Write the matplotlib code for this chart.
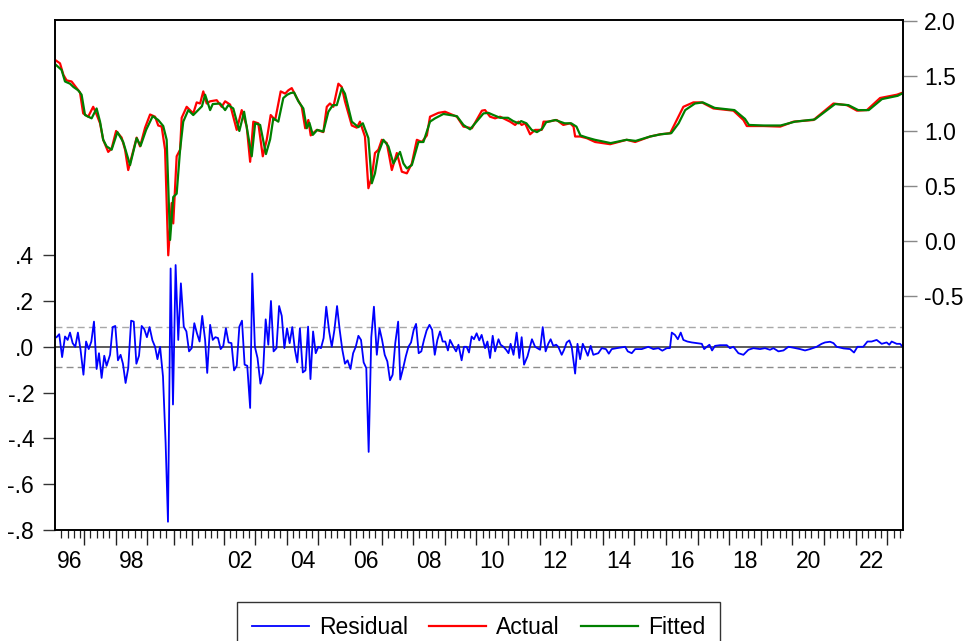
"""Residual / Actual / Fitted graph, EViews style."""

import matplotlib
matplotlib.use("Agg")
import matplotlib.pyplot as plt
import numpy as np

plt.rcParams["font.family"] = ["Liberation Sans", "DejaVu Sans"]

# observations per calendar year, 1996..2023 (dated workfile, gaps in 1999/2000)
years = list(range(1996, 2024))
obs_per_year = [11, 12, 12, 10, 7] + [12] * 22 + [6]
labelled_years = [1996, 1998] + list(range(2002, 2023, 2))

actual_obs = [0.4, 1.9, 3.2, 4.4, 6.3, 8.2, 9.5, 10.7, 12.6, 14.5,
              15.8, 17.1, 18.3, 20.2, 21.5, 23.2, 25.3, 26.6, 27.8, 29.5,
              31.0, 32.3, 34.2, 36.1, 38.0, 39.2, 40.5, 41.8, 43.0, 44.3,
              44.9, 46.2, 47.5, 48.1, 50.0, 52.5, 53.8, 55.1, 56.3, 57.6,
              58.9, 61.4, 63.3, 64.6, 66.5, 69.0, 70.9, 72.8, 74.1, 75.3,
              77.2, 78.9, 80.4, 81.9, 83.6, 85.7, 87.4, 88.6, 89.9, 91.8,
              93.7, 95.0, 96.2, 97.1, 99.4, 101.9, 103.2, 104.4, 105.7, 107.6,
              108.9, 110.1, 112.7, 114.6, 115.8, 117.7, 119.0, 120.3, 121.5, 122.8,
              124.1, 126.0, 127.9, 129.8, 131.7, 133.6, 135.5, 137.4, 139.3, 141.2,
              142.4, 145.6, 148.1, 152.6, 155.1, 158.3, 162.1, 163.3, 165.2, 167.1,
              169.0, 172.8, 174.7, 176.0, 177.2, 178.5, 180.4, 182.3, 184.8, 185.5,
              187.3, 190.5, 193.0, 195.6, 196.9, 197.5, 199.4, 201.9, 205.1, 210.8,
              217.1, 220.3, 226.0, 229.8, 233.6, 236.1, 238.6, 242.4, 245.6, 250.0,
              257.6, 261.4, 262.7, 269.0, 275.4, 280.4, 288.0, 295.6, 300.7, 304.5,
              308.3, 313.3, 319.7, 322.0]
actual = [1.64, 1.615, 1.51, 1.46, 1.45, 1.39, 1.35, 1.16, 1.13, 1.22,
          1.15, 1.07, 0.92, 0.81, 0.84, 1.00, 0.94, 0.83, 0.645, 0.80,
          0.94, 0.86, 1.03, 1.15, 1.13, 1.05, 1.04, 0.83, -0.13, 0.345,
          0.16, 0.77, 0.83, 1.12, 1.22, 1.16, 1.26, 1.25, 1.36, 1.25,
          1.27, 1.28, 1.22, 1.27, 1.24, 1.01, 1.19, 1.04, 0.72, 1.085,
          1.07, 0.77, 0.92, 1.145, 1.10, 1.36, 1.34, 1.37, 1.39, 1.30,
          1.22, 1.025, 1.10, 0.96, 1.01, 0.99, 1.22, 1.25, 1.22, 1.43,
          1.40, 1.27, 1.05, 1.03, 1.085, 0.95, 0.48, 0.585, 0.80, 0.83,
          0.92, 0.89, 0.645, 0.80, 0.63, 0.615, 0.705, 0.92, 0.90, 0.96,
          1.13, 1.165, 1.175, 1.13, 1.04, 1.025, 1.185, 1.19, 1.13, 1.115,
          1.13, 1.085, 1.055, 1.085, 1.055, 1.07, 0.97, 1.01, 1.01, 1.085,
          1.085, 1.10, 1.055, 1.07, 1.04, 0.95, 0.95, 0.935, 0.90, 0.88,
          0.92, 0.90, 0.95, 0.97, 0.98, 1.10, 1.22, 1.26, 1.26, 1.205,
          1.185, 1.10, 1.045, 1.045, 1.04, 1.085, 1.10, 1.25, 1.235, 1.185,
          1.19, 1.30, 1.33, 1.35]

fitted_obs = [0.4, 2.5, 3.8, 5.7, 7.0, 8.8, 10.1, 11.4, 13.9, 15.8,
              17.1, 18.3, 19.6, 21.5, 23.7, 25.9, 28.5, 31.0, 32.5, 34.6,
              37.1, 39.2, 41.1, 42.4, 43.7, 44.9, 46.2, 47.5, 48.7, 50.6,
              52.5, 55.8, 57.0, 58.9, 59.9, 62.7, 64.6, 65.8, 67.7, 70.0,
              71.8, 74.7, 76.0, 77.9, 80.1, 81.7, 82.9, 84.8, 86.7, 88.2,
              89.5, 90.8, 92.4, 94.3, 95.6, 96.6, 97.9, 99.6, 101.9, 103.8,
              105.5, 107.0, 108.9, 110.1, 112.7, 115.2, 116.9, 119.0, 120.3, 121.5,
              122.8, 124.7, 126.6, 128.5, 131.0, 132.3, 133.6, 135.5, 138.0, 139.9,
              142.4, 144.3, 147.5, 152.6, 155.1, 157.6, 162.7, 164.6, 166, 169,
              172, 174, 176, 177, 179, 181, 183, 185, 186.5, 190,
              193.5, 196, 198, 199.5, 202, 205, 211, 217, 220.5, 226,
              230, 234, 236.8, 239.3, 243, 246, 250.5, 258, 262, 263.5,
              269, 275.5, 281, 288.5, 296.2, 301.3, 305, 309, 314, 320,
              322]
fitted = [1.60, 1.555, 1.45, 1.43, 1.40, 1.37, 1.33, 1.145, 1.115, 1.205,
          1.085, 0.92, 0.86, 0.83, 0.99, 0.90, 0.69, 0.935, 0.865, 1.01,
          1.135, 1.10, 1.045, 0.92, 0.01, 0.40, 0.43, 0.83, 1.085, 1.19,
          1.145, 1.225, 1.33, 1.19, 1.245, 1.25, 1.19, 1.235, 1.205, 1.00,
          1.175, 0.77, 1.07, 1.055, 0.79, 0.925, 1.115, 1.085, 1.30, 1.33,
          1.345, 1.35, 1.27, 1.205, 1.025, 1.075, 0.965, 1.01, 0.995, 1.175,
          1.235, 1.235, 1.39, 1.34, 1.085, 1.035, 1.07, 0.935, 0.525, 0.615,
          0.80, 0.92, 0.86, 0.705, 0.81, 0.705, 0.66, 0.69, 0.90, 0.90,
          1.085, 1.115, 1.155, 1.135, 1.055, 1.015, 1.16, 1.165, 1.15, 1.12,
          1.12, 1.09, 1.07, 1.09, 1.07, 1.01, 0.99, 1.02, 1.08, 1.10,
          1.07, 1.07, 1.04, 0.96, 0.94, 0.92, 0.89, 0.92, 0.91, 0.95,
          0.97, 0.98, 1.07, 1.19, 1.25, 1.26, 1.21, 1.19, 1.11, 1.055,
          1.05, 1.05, 1.085, 1.105, 1.245, 1.235, 1.19, 1.19, 1.29, 1.32,
          1.345]

resid_obs = [0.6, 1.6, 2.7, 3.8, 4.8, 5.7, 6.7, 7.7, 8.7, 9.7,
             10.8, 11.8, 12.8, 13.8, 14.8, 15.8, 16.7, 17.7, 18.7, 19.6,
             20.9, 21.9, 22.9, 23.9, 24.9, 25.8, 26.8, 27.8, 28.9, 29.9,
             30.9, 31.9, 32.9, 33.9, 34.9, 35.9, 37.0, 38.0, 38.9, 39.9,
             41.0, 42.0, 42.9, 43.9, 44.8, 45.8, 46.8, 47.8, 48.9, 49.9,
             50.9, 51.9, 52.9, 53.9, 54.9, 55.9, 57.0, 57.8, 58.9, 59.9,
             60.9, 61.9, 62.9, 63.9, 64.9, 65.9, 67.0, 68.0, 69.0, 70.0,
             71.0, 72.0, 73.0, 74.1, 74.9, 75.9, 76.9, 78.0, 79.0, 80.0,
             81.0, 82.0, 83.0, 84.1, 85.1, 86.1, 87.1, 88.1, 89.1, 90.1,
             91.1, 92.0, 93.0, 94.1, 95.1, 96.1, 97.0, 98.0, 99.0, 100.0,
             101.0, 102.0, 103.0, 104.1, 105.1, 106.1, 107.1, 108.1, 109.1, 110.1,
             111.1, 112.2, 113.2, 114.2, 115.2, 116.2, 117.2, 118.2, 119.1, 120.1,
             121.1, 122.2, 123.2, 124.2, 125.2, 126.2, 127.2, 128.2, 129.2, 130.3,
             131.1, 132.2, 133.2, 134.2, 135.2, 136.2, 137.1, 138.1, 139.1, 140.1,
             141.1, 142.2, 143.2, 144.2, 145.2, 146.2, 147.2, 148.2, 149.2,
             150.0, 151.3, 152.3, 153.2, 154.4, 155.3, 156.3, 157.2, 158.2, 159.1,
             160.1, 161.1, 162.0, 163.3, 164.2, 165.2, 166.2, 167.1, 168.4, 169.2,
             170.3, 171.3, 172.2, 173.0, 174.1, 175.3, 176.3, 177.2, 178.1, 179.4,
             181.1, 182.3, 184.2, 185.2, 186.3, 187.3, 188.2, 189.2, 190.3, 191.1,
             192.4, 193.3, 194.3, 195.3, 196.2, 197.5, 198.4, 199.4, 200.4, 201.3,
             202.3, 203.4, 204.4, 206.3, 207.6, 209.2, 210.3, 211.4, 213.3, 216.5,
             217.5, 219.0, 220.3, 222.8, 225.3, 227.2, 229.1, 230.6, 232.3, 233.5,
             234.2, 235.4, 236.5, 237.6, 238.6, 240.1, 241.8, 243.7, 245.6, 246.5,
             247.5, 248.5, 249.5, 250.6, 252.5, 255.1, 256.3, 257.6, 259.5, 261.4,
             263.3, 265.2, 267.7, 269.6, 271.5, 272.8, 274.7, 276.6, 278.5, 280.4,
             282.9, 284.8, 286.7, 289.2, 291.1, 292.4, 294.3, 295.6, 296.8, 299.4,
             301.9, 303.4, 304.7, 306.9, 308.5, 310.1, 312.0, 313.9, 315.8, 316.8,
             317.7, 319.6, 320.9, 321.9]
resid = [0.042, 0.055, -0.045, 0.045, 0.03, 0.062, 0.016, 0.0, 0.062, -0.013,
         -0.122, 0.023, -0.01, 0.023, 0.11, -0.097, -0.028, -0.136, -0.039, -0.083,
         -0.035, 0.086, 0.091, -0.059, -0.035, -0.074, -0.158, -0.093, 0.114, 0.11,
         -0.074, -0.039, 0.091, 0.077, 0.042, 0.086, 0.028, 0.0, -0.054, 0.0,
         -0.129, -0.419, -0.764, 0.342, -0.252, 0.357, 0.03, 0.277, 0.088, 0.067,
         -0.02, -0.006, 0.103, 0.059, 0.023, 0.135, 0.03, -0.114, 0.096, 0.03,
         0.042, 0.038, -0.01, 0.004, 0.081, 0.019, 0.016, -0.103, -0.083, 0.088,
         0.114, -0.078, -0.083, -0.267, 0.32, 0.0, -0.049, -0.161, -0.114, 0.12,
         0.009, 0.2, -0.02, -0.006, 0.178, 0.135, -0.006, 0.081, 0.016, 0.086,
         -0.013, -0.068, 0.081, -0.112, -0.103, 0.088, -0.141, 0.067, -0.028, 0.0,
         -0.006, 0.038, 0.175, 0.067, 0.0, 0.074, 0.178, 0.074, -0.013, -0.074,
         -0.059, -0.097, -0.028, 0.0, 0.048, 0.03, -0.068, -0.093, -0.459, 0.042,
         0.175, -0.035, 0.081, 0.03, -0.035, -0.064, -0.146, -0.122, 0.016, 0.11,
         -0.143, -0.093, -0.042, 0.0, 0.019, 0.074, 0.1, -0.028, -0.02, 0.03,
         0.071, 0.096, 0.074, -0.035, 0.03, 0.067, 0.023, 0.023, -0.016,
         0.03, 0.0, -0.02, 0.009, -0.059, 0.0, 0.0, -0.025, 0.045, 0.033,
         0.059, 0.028, 0.052, -0.006, 0.023, -0.049, 0.048, -0.02, 0.033, 0.009,
         0.0, -0.013, -0.028, 0.013, -0.035, 0.062, -0.049, 0.042, -0.078, -0.042,
         0.033, 0.0, -0.013, 0.086, -0.02, 0.013, 0.033, 0.004, 0.009, 0.0,
         -0.035, -0.013, 0.019, 0.028, 0.0, -0.117, 0.013, -0.054, 0.013, -0.01,
         -0.039, 0.004, -0.035, -0.028, -0.006, -0.01, -0.03, -0.01, -0.006, 0.0,
         -0.02, -0.028, -0.01, -0.01, 0.0, -0.01, -0.006, -0.017, -0.006, -0.006,
         0.062, 0.052, 0.033, 0.062, 0.03, 0.023, 0.019, 0.016, 0.013, -0.01,
         0.0, 0.009, -0.016, 0.004, 0.007, 0.007, -0.006, 0.0, -0.028, -0.035,
         -0.013, -0.006, -0.01, -0.006, -0.013, -0.006, -0.02, -0.016, 0.0, -0.004,
         -0.01, -0.016, -0.01, 0.0, 0.013, 0.019, 0.022, 0.016, 0.0, -0.007,
         -0.01, -0.025, 0.0, 0.0, 0.023, 0.023, 0.03, 0.013, 0.019, 0.009,
         0.023, 0.013, 0.013, 0.0]

# regression standard error (dashed band)
se = 0.087

W, H = 963, 641
fig = plt.figure(figsize=(W / 100, H / 100), dpi=100)
left, right, top, bottom = 55, 903, 20, 530
ax = fig.add_axes([left / W, 1 - bottom / H, (right - left) / W, (bottom - top) / H])
ax2 = ax.twinx()

# residual panel (left scale)
ax.axhline(0.0, color="#404040", lw=1.2, zorder=1)
ax.axhline(se, color="#a8a8a8", lw=1.0, dashes=(5, 3), zorder=1)
ax.axhline(-se, color="#8c8c8c", lw=1.0, dashes=(5, 3), zorder=1)
(l_res,) = ax.plot(resid_obs, resid, color="#0000ff", lw=1.3, zorder=2)

# actual & fitted (right scale)
(l_act,) = ax2.plot(actual_obs, actual, color="#ff0000", lw=1.6)
(l_fit,) = ax2.plot(fitted_obs, fitted, color="#008000", lw=1.6)

n_obs = sum(obs_per_year)
ax.set_xlim(0, n_obs)
ax.set_ylim(-0.8, 1.427)
ax2.set_ylim(-2.627, 2.009)

left_ticks = [-0.8, -0.6, -0.4, -0.2, 0.0, 0.2, 0.4]
ax.set_yticks(left_ticks)
ax.set_yticklabels([f"{v:.1f}".replace("0.", ".") for v in left_ticks])
right_ticks = [-0.5, 0.0, 0.5, 1.0, 1.5, 2.0]
ax2.set_yticks(right_ticks)
ax2.set_yticklabels([f"{v:.1f}" for v in right_ticks])

# year boundaries, labels centred in each year
starts = np.concatenate([[0], np.cumsum(obs_per_year)[:-1]])
ax.set_xticks(starts[1:])
ax.set_xticklabels([])
minor = []
for s, n in zip(starts, obs_per_year):
    minor.extend(np.arange(s + 2.4, s + n - 0.5, 2.4))
ax.set_xticks(minor, minor=True)
for yr, s, n in zip(years, starts, obs_per_year):
    if yr in labelled_years:
        ax.text(s + n / 2, -0.04, f"{yr % 100:02d}", transform=ax.get_xaxis_transform(),
                ha="center", va="top", fontsize=16.5)

ax.tick_params(axis="x", which="major", direction="out", length=11, width=1.0, color="#222222")
ax.tick_params(axis="x", which="minor", direction="out", length=6, width=0.9, color="#222222")
ax.tick_params(axis="y", direction="out", length=9, width=1.0, color="#333333",
               labelsize=16.5, pad=6)
ax2.tick_params(axis="y", direction="out", length=10, width=1.0, color="#888888",
                labelsize=16.5, pad=5)

for a in (ax, ax2):
    for sp in a.spines.values():
        sp.set_color("#000000")
        sp.set_linewidth(1.2)

fig.legend([l_res, l_act, l_fit], ["Residual", "Actual", "Fitted"],
           loc="upper center", bbox_to_anchor=(478.5 / W, 1 - 602 / H), ncol=3,
           fontsize=16.5, frameon=True, fancybox=False, edgecolor="#333333",
           framealpha=1, handlelength=2.5, handletextpad=0.45, columnspacing=0.9,
           borderpad=0.62, borderaxespad=0)

fig.savefig("out.png", dpi=100)
plt.close(fig)
